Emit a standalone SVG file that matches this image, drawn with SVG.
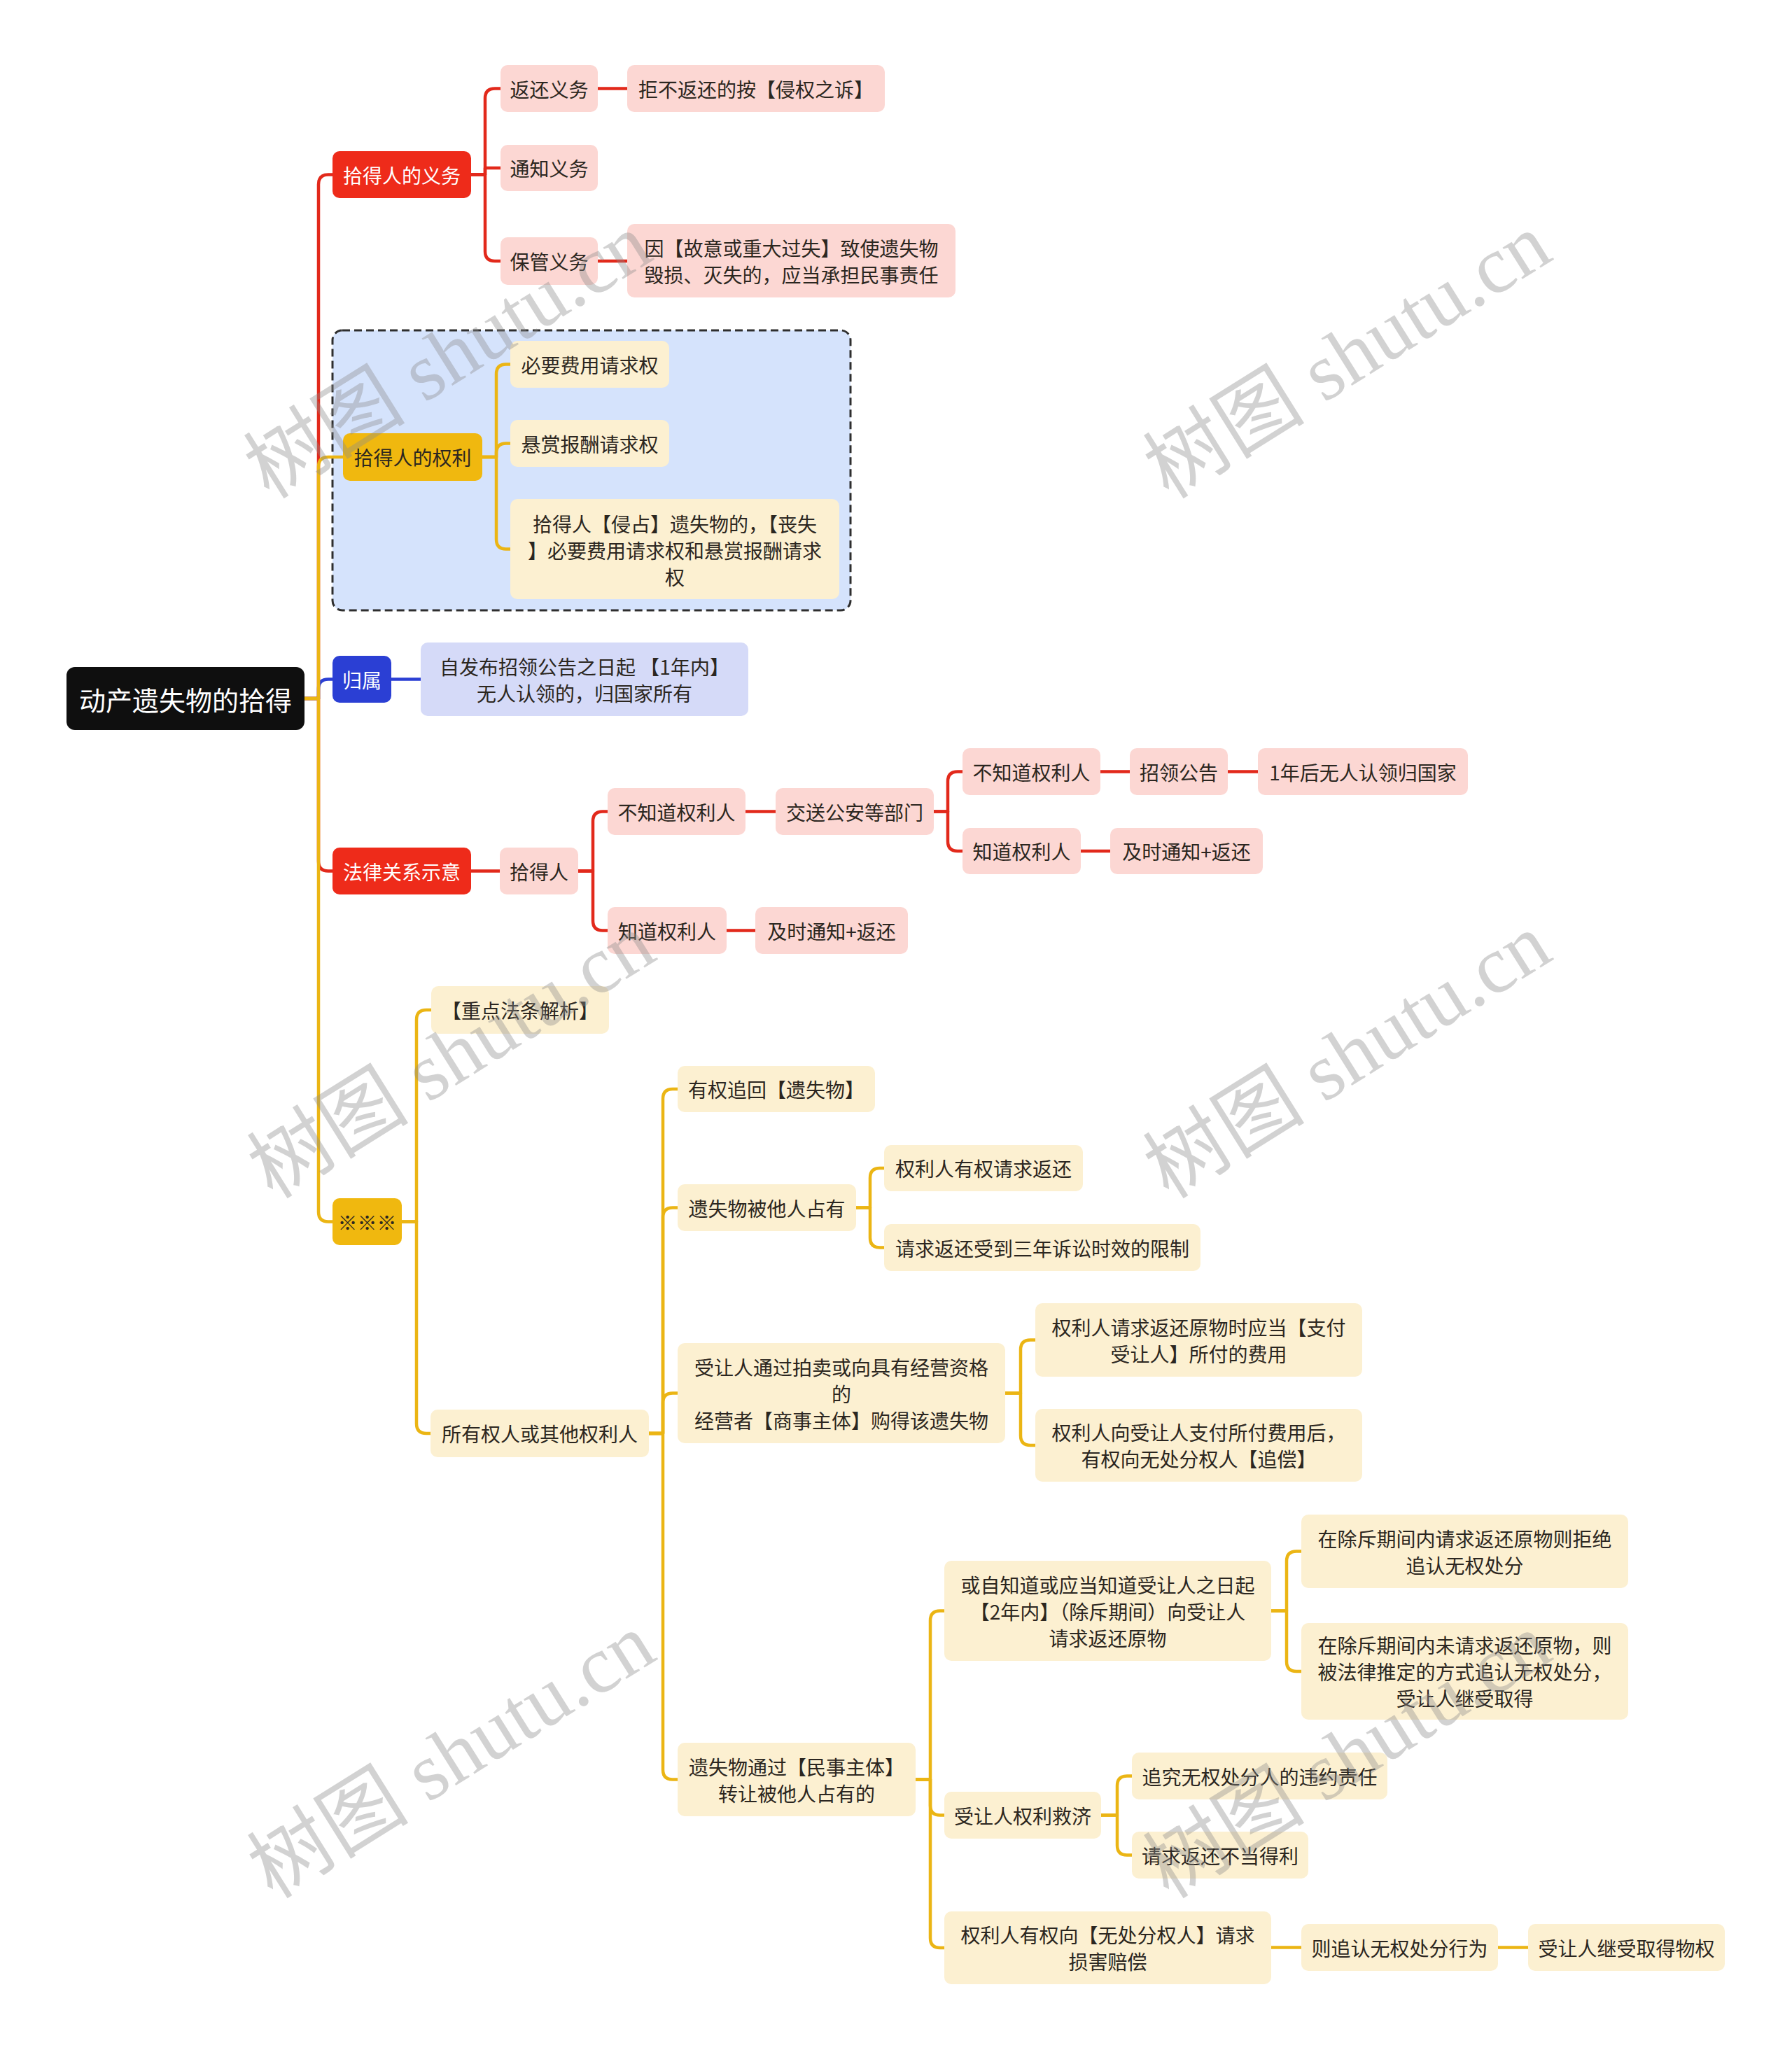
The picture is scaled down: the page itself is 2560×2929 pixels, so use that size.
<svg xmlns="http://www.w3.org/2000/svg" width="2560" height="2929" viewBox="0 0 2560 2929">
<style>
text{font-family:"Noto Sans CJK SC","Noto Sans",sans-serif;font-size:28px;text-anchor:middle;dominant-baseline:central;fill:#2b2620}
.root rect{fill:#0f0f0f}
.root text{fill:#fff;font-size:38px}
.rm rect{fill:#ee2b1a}
.ym rect{fill:#f0b80f}
.bm rect{fill:#2b3fd4}
.rm text,.bm text{fill:#fff}
.ym text{fill:#2b2620}
.rs rect{fill:#fcd7d3}
.ys rect{fill:#fcf0d1}
.bs rect{fill:#d5daf8}
.c path{fill:none;stroke-width:4.5;stroke-linecap:round;stroke-linejoin:round}
.cr path{stroke:#e2291b}
.cy path{stroke:#ebb514}
.cb path{stroke:#2b3fd4}
.wm{font-family:"Liberation Serif","Noto Sans CJK SC",serif;font-size:116px;fill:#8c8c8c;opacity:0.38}
</style>
<rect x="0" y="0" width="2560" height="2929" fill="#ffffff"/>

<!-- frame around 拾得人的权利 -->
<rect x="475" y="472" width="740" height="400" rx="14" fill="#d5e3fc" stroke="#2e2e2e" stroke-width="3" stroke-dasharray="11 6"/>

<g id="connectors" class="c">
  <g class="cr">
    <path d="M435,998 H455 V263.5 Q455,249.5 469,249.5 H475"/>
    <path d="M673,249.5 H693 V140.5 Q693,126.5 707,126.5 H715"/>
    <path d="M673,249.5 H693 V240 H715"/>
    <path d="M673,249.5 H693 V359 Q693,373 707,373 H715"/>
    <path d="M854,126.5 H896"/>
    <path d="M854,373 H896"/>
    <path d="M435,998 H455 V1230.5 Q455,1244.5 469,1244.5 H475"/>
    <path d="M673,1244.5 H714"/>
    <path d="M826,1244.5 H847 V1173.5 Q847,1159.5 861,1159.5 H868"/>
    <path d="M826,1244.5 H847 V1315.5 Q847,1329.5 861,1329.5 H868"/>
    <path d="M1065,1159.5 H1108"/>
    <path d="M1334,1159.5 H1354 V1116.5 Q1354,1102.5 1368,1102.5 H1375"/>
    <path d="M1334,1159.5 H1354 V1202 Q1354,1216 1368,1216 H1375"/>
    <path d="M1572,1102.5 H1614"/>
    <path d="M1754,1102.5 H1797"/>
    <path d="M1544,1216 H1586"/>
    <path d="M1038,1329.5 H1079"/>
  </g>
  <g class="cb">
    <path d="M435,998 H455 V984.5 Q455,970.5 469,970.5 H475"/>
    <path d="M559,970.5 H601"/>
  </g>
  <g class="cy">
    <path d="M435,998 H455 V667 Q455,653 469,653 H490"/>
    <path d="M689,653 H709 V534.5 Q709,520.5 723,520.5 H729"/>
    <path d="M689,653 H709 V647.5 Q709,633.5 723,633.5 H729"/>
    <path d="M689,653 H709 V770.5 Q709,784.5 723,784.5 H729"/>
    <path d="M435,998 H455 V1731.5 Q455,1745.5 469,1745.5 H475"/>
    <path d="M574,1745.5 H595 V1457 Q595,1443 609,1443 H616"/>
    <path d="M574,1745.5 H595 V2034 Q595,2048 609,2048 H615"/>
    <path d="M927,2048 H947 V1570 Q947,1556 961,1556 H968"/>
    <path d="M927,2048 H947 V1739.5 Q947,1725.5 961,1725.5 H968"/>
    <path d="M927,2048 H947 V2004.5 Q947,1990.5 961,1990.5 H968"/>
    <path d="M927,2048 H947 V2528.5 Q947,2542.5 961,2542.5 H968"/>
    <path d="M1223,1725.5 H1243 V1683 Q1243,1669 1257,1669 H1263"/>
    <path d="M1223,1725.5 H1243 V1768.5 Q1243,1782.5 1257,1782.5 H1263"/>
    <path d="M1436,1990.5 H1458 V1928.5 Q1458,1914.5 1472,1914.5 H1479"/>
    <path d="M1436,1990.5 H1458 V2051 Q1458,2065 1472,2065 H1479"/>
    <path d="M1308,2542.5 H1329 V2315.5 Q1329,2301.5 1343,2301.5 H1349"/>
    <path d="M1308,2542.5 H1329 V2579.5 Q1329,2593.5 1343,2593.5 H1349"/>
    <path d="M1308,2542.5 H1329 V2769 Q1329,2783 1343,2783 H1349"/>
    <path d="M1816,2301.5 H1838 V2230.5 Q1838,2216.5 1852,2216.5 H1859"/>
    <path d="M1816,2301.5 H1838 V2374 Q1838,2388 1852,2388 H1859"/>
    <path d="M1573,2593.5 H1596 V2551.5 Q1596,2537.5 1610,2537.5 H1617"/>
    <path d="M1573,2593.5 H1596 V2636.5 Q1596,2650.5 1610,2650.5 H1617"/>
    <path d="M1816,2782.5 H1859"/>
    <path d="M2140,2782.5 H2183"/>
  </g>
</g>

<g id="root" class="root"><rect x="95" y="953" width="340" height="90" rx="12"/><text x="265" y="998">动产遗失物的拾得</text></g>

<g id="n1" class="rm"><rect x="475" y="216" width="198" height="67" rx="10"/><text x="574" y="249.5">拾得人的义务</text></g>
<g id="n1a" class="rs"><rect x="715" y="93" width="139" height="67" rx="10"/><text x="784.5" y="126.5">返还义务</text></g>
<g id="n1a1" class="rs"><rect x="896" y="93" width="368" height="67" rx="10"/><text x="1080" y="126.5">拒不返还的按【侵权之诉】</text></g>
<g id="n1b" class="rs"><rect x="715" y="207" width="139" height="66" rx="10"/><text x="784.5" y="240">通知义务</text></g>
<g id="n1c" class="rs"><rect x="715" y="339" width="139" height="68" rx="10"/><text x="784.5" y="373">保管义务</text></g>
<g id="n1c1" class="rs"><rect x="896" y="320" width="469" height="105" rx="10"/><text x="1130.5" y="353.5">因【故意或重大过失】致使遗失物</text><text x="1130.5" y="391.5">毁损、灭失的，应当承担民事责任</text></g>

<g id="n2" class="ym"><rect x="490" y="619" width="199" height="68" rx="10"/><text x="589.5" y="653">拾得人的权利</text></g>
<g id="n2a" class="ys"><rect x="729" y="487" width="227" height="67" rx="10"/><text x="842.5" y="520.5">必要费用请求权</text></g>
<g id="n2b" class="ys"><rect x="729" y="600" width="227" height="67" rx="10"/><text x="842.5" y="633.5">悬赏报酬请求权</text></g>
<g id="n2c" class="ys"><rect x="729" y="713" width="470" height="143" rx="10"/><text x="964" y="747.5">拾得人【侵占】遗失物的，【丧失</text><text x="964" y="785.5">】必要费用请求权和悬赏报酬请求</text><text x="964" y="823.5">权</text></g>

<g id="n3" class="bm"><rect x="475" y="937" width="84" height="67" rx="10"/><text x="517" y="970.5">归属</text></g>
<g id="n3a" class="bs"><rect x="601" y="918" width="468" height="105" rx="10"/><text x="835" y="951.5">自发布招领公告之日起 【1年内】</text><text x="835" y="989.5">无人认领的，归国家所有</text></g>

<g id="n4" class="rm"><rect x="475" y="1211" width="198" height="67" rx="10"/><text x="574" y="1244.5">法律关系示意</text></g>
<g id="n4a" class="rs"><rect x="714" y="1211" width="112" height="67" rx="10"/><text x="770" y="1244.5">拾得人</text></g>
<g id="n4a1" class="rs"><rect x="868" y="1126" width="197" height="67" rx="10"/><text x="966.5" y="1159.5">不知道权利人</text></g>
<g id="n4a1a" class="rs"><rect x="1108" y="1126" width="226" height="67" rx="10"/><text x="1221" y="1159.5">交送公安等部门</text></g>
<g id="n4a1a1" class="rs"><rect x="1375" y="1069" width="197" height="67" rx="10"/><text x="1473.5" y="1102.5">不知道权利人</text></g>
<g id="n4a1a1a" class="rs"><rect x="1614" y="1069" width="140" height="67" rx="10"/><text x="1684" y="1102.5">招领公告</text></g>
<g id="n4a1a1b" class="rs"><rect x="1797" y="1069" width="300" height="67" rx="10"/><text x="1947" y="1102.5">1年后无人认领归国家</text></g>
<g id="n4a1a2" class="rs"><rect x="1375" y="1183" width="169" height="66" rx="10"/><text x="1459.5" y="1216">知道权利人</text></g>
<g id="n4a1a2a" class="rs"><rect x="1586" y="1183" width="218" height="66" rx="10"/><text x="1695" y="1216">及时通知+返还</text></g>
<g id="n4a2" class="rs"><rect x="868" y="1296" width="170" height="67" rx="10"/><text x="953" y="1329.5">知道权利人</text></g>
<g id="n4a2a" class="rs"><rect x="1079" y="1296" width="218" height="67" rx="10"/><text x="1188" y="1329.5">及时通知+返还</text></g>

<g id="n5" class="ym"><rect x="475" y="1712" width="99" height="67" rx="10"/><text x="524.5" y="1745.5">※※※</text></g>
<g id="n5a" class="ys"><rect x="616" y="1409" width="254" height="68" rx="10"/><text x="743" y="1443">【重点法条解析】</text></g>
<g id="n5b" class="ys"><rect x="615" y="2014" width="312" height="68" rx="10"/><text x="771" y="2048">所有权人或其他权利人</text></g>
<g id="n5b1" class="ys"><rect x="968" y="1523" width="282" height="66" rx="10"/><text x="1109" y="1556">有权追回【遗失物】</text></g>
<g id="n5b2" class="ys"><rect x="968" y="1692" width="255" height="67" rx="10"/><text x="1095.5" y="1725.5">遗失物被他人占有</text></g>
<g id="n5b2a" class="ys"><rect x="1263" y="1636" width="284" height="66" rx="10"/><text x="1405" y="1669">权利人有权请求返还</text></g>
<g id="n5b2b" class="ys"><rect x="1263" y="1749" width="452" height="67" rx="10"/><text x="1489" y="1782.5">请求返还受到三年诉讼时效的限制</text></g>
<g id="n5b3" class="ys"><rect x="968" y="1919" width="468" height="143" rx="10"/><text x="1202" y="1952.5">受让人通过拍卖或向具有经营资格</text><text x="1202" y="1990.5">的</text><text x="1202" y="2028.5">经营者【商事主体】购得该遗失物</text></g>
<g id="n5b3a" class="ys"><rect x="1479" y="1862" width="467" height="105" rx="10"/><text x="1712.5" y="1895.5">权利人请求返还原物时应当【支付</text><text x="1712.5" y="1933.5">受让人】所付的费用</text></g>
<g id="n5b3b" class="ys"><rect x="1479" y="2013" width="467" height="104" rx="10"/><text x="1712.5" y="2046">权利人向受让人支付所付费用后，</text><text x="1712.5" y="2084">有权向无处分权人【追偿】</text></g>
<g id="n5b4" class="ys"><rect x="968" y="2490" width="340" height="105" rx="10"/><text x="1138" y="2523.5">遗失物通过【民事主体】</text><text x="1138" y="2561.5">转让被他人占有的</text></g>
<g id="n5b4a" class="ys"><rect x="1349" y="2230" width="467" height="143" rx="10"/><text x="1582.5" y="2263.5">或自知道或应当知道受让人之日起</text><text x="1582.5" y="2301.5">【2年内】（除斥期间）向受让人</text><text x="1582.5" y="2339.5">请求返还原物</text></g>
<g id="n5b4a1" class="ys"><rect x="1859" y="2164" width="467" height="105" rx="10"/><text x="2092.5" y="2197.5">在除斥期间内请求返还原物则拒绝</text><text x="2092.5" y="2235.5">追认无权处分</text></g>
<g id="n5b4a2" class="ys"><rect x="1859" y="2319" width="467" height="138" rx="10"/><text x="2092.5" y="2350">在除斥期间内未请求返还原物，则</text><text x="2092.5" y="2388">被法律推定的方式追认无权处分，</text><text x="2092.5" y="2426">受让人继受取得</text></g>
<g id="n5b4b" class="ys"><rect x="1349" y="2560" width="224" height="67" rx="10"/><text x="1461" y="2593.5">受让人权利救济</text></g>
<g id="n5b4b1" class="ys"><rect x="1617" y="2504" width="365" height="67" rx="10"/><text x="1799.5" y="2537.5">追究无权处分人的违约责任</text></g>
<g id="n5b4b2" class="ys"><rect x="1617" y="2617" width="252" height="67" rx="10"/><text x="1743" y="2650.5">请求返还不当得利</text></g>
<g id="n5b4c" class="ys"><rect x="1349" y="2731" width="467" height="104" rx="10"/><text x="1582.5" y="2764">权利人有权向【无处分权人】请求</text><text x="1582.5" y="2802">损害赔偿</text></g>
<g id="n5b4c1" class="ys"><rect x="1859" y="2749" width="281" height="67" rx="10"/><text x="1999.5" y="2782.5">则追认无权处分行为</text></g>
<g id="n5b4c2" class="ys"><rect x="2183" y="2749" width="281" height="67" rx="10"/><text x="2323.5" y="2782.5">受让人继受取得物权</text></g>

<g id="watermarks">
  <text class="wm" x="640" y="509" transform="rotate(-32 640 509)">树图 shutu.cn</text>
  <text class="wm" x="1925" y="509" transform="rotate(-32 1925 509)">树图 shutu.cn</text>
  <text class="wm" x="645" y="1509" transform="rotate(-32 645 1509)">树图 shutu.cn</text>
  <text class="wm" x="1925" y="1509" transform="rotate(-32 1925 1509)">树图 shutu.cn</text>
  <text class="wm" x="645" y="2509" transform="rotate(-32 645 2509)">树图 shutu.cn</text>
  <text class="wm" x="1925" y="2509" transform="rotate(-32 1925 2509)">树图 shutu.cn</text>
</g>
</svg>
